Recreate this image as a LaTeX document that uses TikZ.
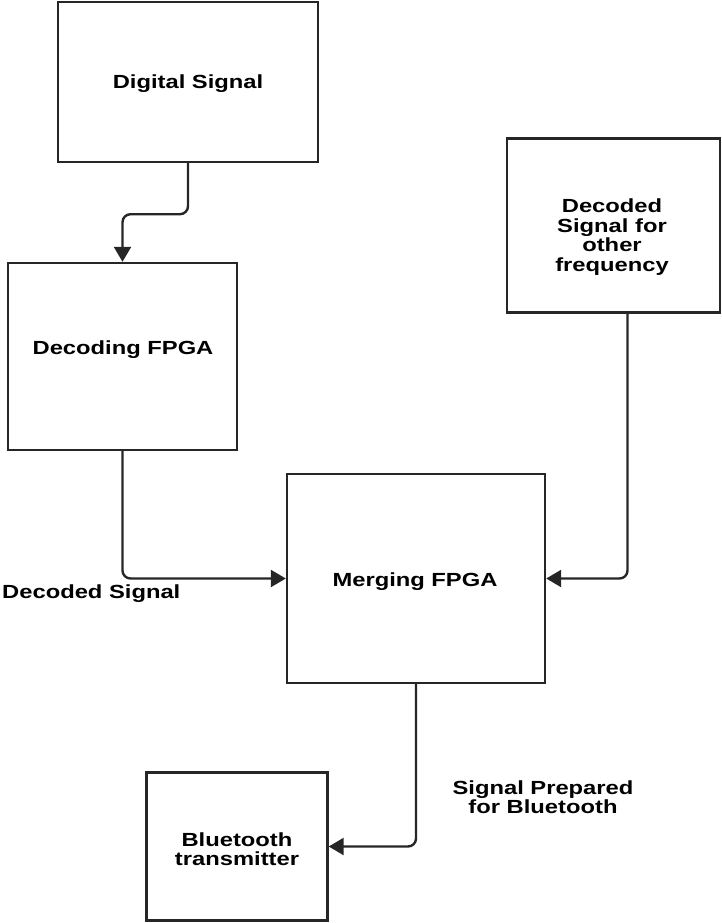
\documentclass[tikz,border=0pt]{standalone}
\usepackage{fontspec}
\setmainfont{Liberation Sans}[FakeStretch=1.25]
\usetikzlibrary{arrows.meta}
\begin{document}
\begin{tikzpicture}[x=1pt,y=-1pt,
  blk/.style={draw=black!85, line width=2.4pt, rectangle, inner sep=0pt},
  conn/.style={draw=black!85, line width=2.4pt, rounded corners=8pt, -{Triangle[length=15pt,width=17pt]}},
  lbl/.style={inner sep=0pt, align=center, font=\fontsize{19}{19.5}\selectfont\bfseries}]
\useasboundingbox (0,0) rectangle (721,923);
\node[blk, minimum width=260pt, minimum height=160pt] (ds) at (188,82) {};
\node[blk, minimum width=229pt, minimum height=187pt] (dec) at (122.5,356.5) {};
\node[blk, minimum width=213pt, minimum height=174pt] (oth) at (613.5,225.5) {};
\node[blk, minimum width=258pt, minimum height=209pt] (mf) at (416,578.5) {};
\node[blk, minimum width=181pt, minimum height=148pt] (bt) at (237,846.5) {};
\node[lbl] (dst) at (188,84) {Digital Signal};
\node[lbl] (dect) at (123,350) {Decoding FPGA};
\node[lbl] (otht) at (612,237) {Decoded\\Signal for\\other\\frequency};
\node[lbl] (mft) at (415,582) {Merging FPGA};
\node[lbl] (btt) at (237,849) {Bluetooth\\transmitter};
\draw[conn] (ds.south) -- ++(0,51) -| (dec.north);
\draw[conn] (dec.south) |- (mf.west);
\draw[conn] ([xshift=14pt]oth.south) |- (mf.east);
\draw[conn] (mf.south) |- (bt.east);
\node[lbl, anchor=west] (l1) at (2,594) {Decoded Signal};
\node[lbl] (l2) at (543,797) {Signal Prepared\\for Bluetooth};
\end{tikzpicture}
\end{document}
